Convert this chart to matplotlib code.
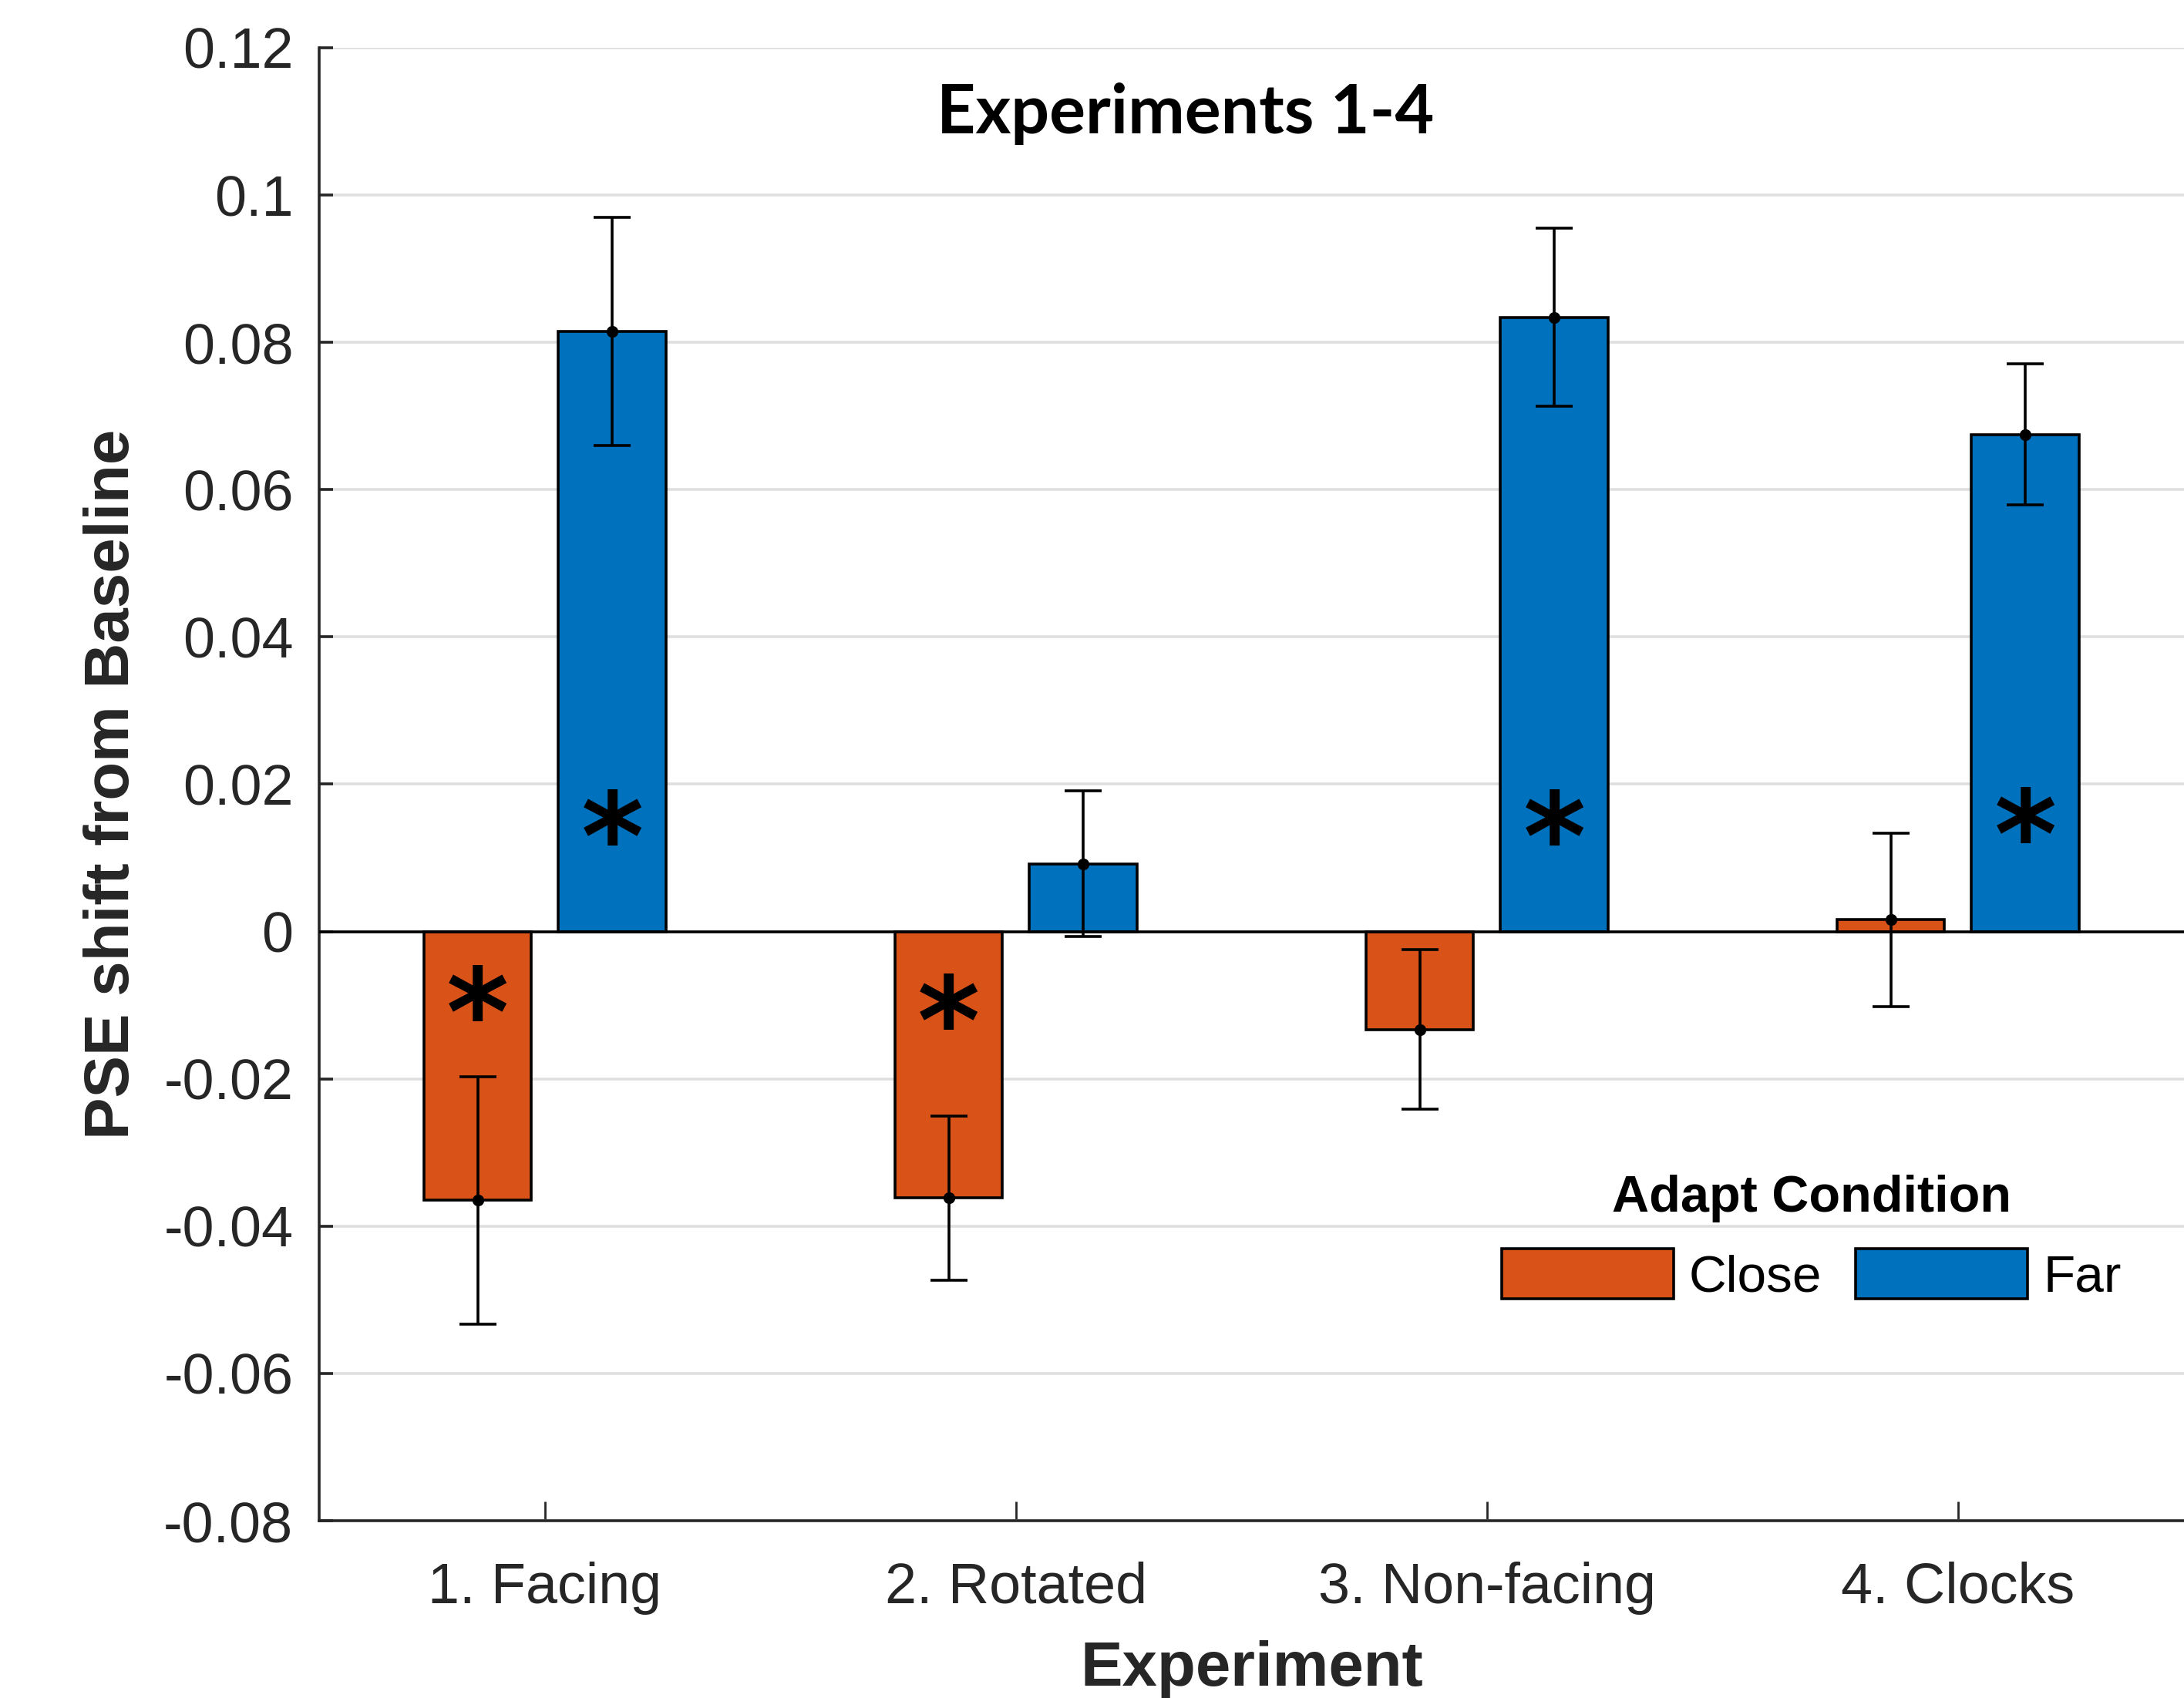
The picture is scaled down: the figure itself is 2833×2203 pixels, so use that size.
import matplotlib
matplotlib.use('Agg')
import matplotlib.pyplot as plt
import numpy as np
from matplotlib.transforms import offset_copy

# values
categories = ['1. Facing', '2. Rotated', '3. Non-facing', '4. Clocks']
close_mean = [-0.0365, -0.0362, -0.0133, 0.0016]
close_err = [0.0168, 0.0111, 0.0108, 0.0118]
far_mean = [0.0815, 0.0092, 0.0834, 0.0675]
far_err = [0.0155, 0.0099, 0.0121, 0.0096]
# significance stars: (category index, group, y)
star_cat = [0, 1, 0, 2, 3]
star_group = ['close', 'close', 'far', 'far', 'far']
star_y = [-0.0085, -0.0097, 0.0154, 0.0153, 0.0157]

CLOSE_COLOR = '#D95319'
FAR_COLOR = '#0072BD'
AX_COLOR = '#262626'

plt.rcParams['font.family'] = ['Liberation Sans', 'DejaVu Sans']

fig = plt.figure(figsize=(14.165, 11.015), dpi=200)
ax = fig.add_axes([0.146, 0.1044, 0.8627, 0.8675])

x = np.arange(1, len(categories) + 1)
width = 0.2286
offset = 0.1429

ax.bar(x - offset, close_mean, width, color=CLOSE_COLOR, edgecolor='black',
       linewidth=1.3, label='Close', zorder=3)
ax.bar(x + offset, far_mean, width, color=FAR_COLOR, edgecolor='black',
       linewidth=1.3, label='Far', zorder=3)
ax.axhline(0, color='black', linewidth=1.3, zorder=4)

err_kw = dict(fmt='o', color='black', markersize=4.5, elinewidth=1.3,
              capsize=8.5, capthick=1.3, zorder=5)
ax.errorbar(x - offset, close_mean, yerr=close_err, **err_kw)
ax.errorbar(x + offset, far_mean, yerr=far_err, **err_kw)

# glyph sits high in its box, nudge it down so its centre lands on star_y
star_tr = offset_copy(ax.transData, fig=fig, y=-13, units='points')
for c, g, y in zip(star_cat, star_group, star_y):
    xs = x[c] - offset if g == 'close' else x[c] + offset
    ax.text(xs, y, '*', ha='center', va='center', fontsize=56,
            fontweight='bold', family='DejaVu Sans', color='black',
            transform=star_tr, zorder=6)

ax.set_xlim(0.52, 4.52)
ax.set_ylim(-0.08, 0.12)
ax.set_yticks(np.arange(-0.08, 0.1201, 0.02))
ax.set_yticklabels(['-0.08', '-0.06', '-0.04', '-0.02', '0', '0.02', '0.04',
                    '0.06', '0.08', '0.1', '0.12'])
ax.set_xticks(x)
ax.set_xticklabels(categories)

ax.grid(axis='y', color='#DFDFDF', linewidth=1.3, zorder=0)
ax.set_axisbelow(True)
for side in ['top', 'right']:
    ax.spines[side].set_visible(False)
for side in ['left', 'bottom']:
    ax.spines[side].set_color(AX_COLOR)
    ax.spines[side].set_linewidth(1.3)

ax.tick_params(axis='y', direction='in', length=6.5, width=1.3,
               colors=AX_COLOR, labelsize=26.5, pad=12)
ax.tick_params(axis='x', direction='in', length=9, width=1.0,
               colors=AX_COLOR, labelsize=26.5, pad=19)

ax.set_ylabel('PSE shift from Baseline', fontsize=29.4, fontweight='bold',
              color=AX_COLOR)
ax.yaxis.set_label_coords(-0.094, 0.5)
ax.set_xlabel('Experiment', fontsize=29.4, fontweight='bold', color=AX_COLOR)
ax.xaxis.set_label_coords(0.495, -0.081)

ax.text(2.36, 0.1110, 'Experiments 1-4', ha='center', va='center',
        fontsize=31.6, fontweight='bold', family='Lato', color='black')

leg = ax.legend(loc='upper left', bbox_to_anchor=(0.6876, 0.3080),
                bbox_transform=fig.transFigure, ncol=2, frameon=False,
                title='Adapt Condition', fontsize=24.3,
                title_fontproperties={'weight': 'bold', 'size': 24},
                handlelength=3.3, handleheight=1.1, handletextpad=0.3,
                columnspacing=0.65, borderpad=0, borderaxespad=0)

fig.savefig('out.png', dpi=200)
